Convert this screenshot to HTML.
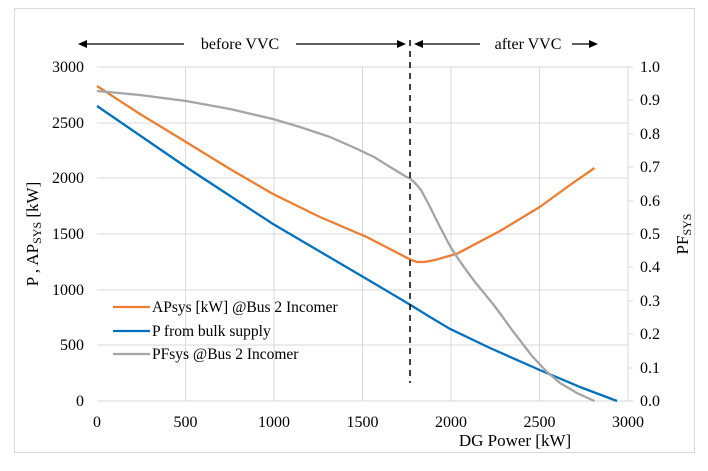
<!DOCTYPE html><html><head><style>body{margin:0;background:#fff}svg{display:block}</style></head><body>
<svg width="708" height="471" viewBox="0 0 708 471" style="font-family:'Liberation Serif','DejaVu Serif','Times New Roman',serif">
<rect x="14.5" y="8.5" width="680" height="444" fill="#fff" stroke="#d9d9d9"/>
<g stroke="#d9d9d9" stroke-width="1">
<line x1="97" y1="67" x2="628" y2="67"/><line x1="97" y1="123" x2="628" y2="123"/><line x1="97" y1="178" x2="628" y2="178"/><line x1="97" y1="234" x2="628" y2="234"/><line x1="97" y1="290" x2="628" y2="290"/><line x1="97" y1="345" x2="628" y2="345"/>
<line x1="185.5" y1="67" x2="185.5" y2="401"/><line x1="274" y1="67" x2="274" y2="401"/><line x1="362.5" y1="67" x2="362.5" y2="401"/><line x1="451" y1="67" x2="451" y2="401"/><line x1="539.5" y1="67" x2="539.5" y2="401"/>
<line x1="628" y1="67" x2="628" y2="401"/><line x1="97" y1="401" x2="628" y2="401"/>
<line x1="628" y1="67" x2="633" y2="67"/><line x1="628" y1="100" x2="633" y2="100"/><line x1="628" y1="134" x2="633" y2="134"/><line x1="628" y1="167" x2="633" y2="167"/><line x1="628" y1="201" x2="633" y2="201"/><line x1="628" y1="234" x2="633" y2="234"/><line x1="628" y1="267" x2="633" y2="267"/><line x1="628" y1="301" x2="633" y2="301"/><line x1="628" y1="334" x2="633" y2="334"/><line x1="628" y1="368" x2="633" y2="368"/><line x1="628" y1="401" x2="633" y2="401"/>
</g>
<g font-size="16" fill="#000" text-anchor="end" style="font-family:'Liberation Serif',serif">
<text x="84" y="72">3000</text><text x="84" y="128">2500</text><text x="84" y="183">2000</text><text x="84" y="239">1500</text><text x="84" y="295">1000</text><text x="84" y="350">500</text><text x="84" y="406">0</text>
</g>
<g font-size="16" text-anchor="start" style="font-family:'Liberation Serif',serif">
<text x="640" y="72">1.0</text><text x="640" y="105">0.9</text><text x="640" y="139">0.8</text><text x="640" y="172">0.7</text><text x="640" y="206">0.6</text><text x="640" y="239">0.5</text><text x="640" y="272">0.4</text><text x="640" y="306">0.3</text><text x="640" y="339">0.2</text><text x="640" y="373">0.1</text><text x="640" y="406">0.0</text>
</g>
<g font-size="16" text-anchor="middle" style="font-family:'Liberation Serif',serif">
<text x="97" y="427">0</text><text x="185.5" y="427">500</text><text x="274" y="427">1000</text><text x="362.5" y="427">1500</text><text x="451" y="427">2000</text><text x="539.5" y="427">2500</text><text x="628" y="427">3000</text>
</g>
<g style="font-family:'Liberation Serif',serif">
<text x="515" y="446" font-size="17" text-anchor="middle">DG Power [kW]</text>
<text transform="translate(38,234) rotate(-90)" font-size="17" text-anchor="middle">P , AP<tspan font-size="12" dy="3">SYS</tspan><tspan dy="-3"> [kW]</tspan></text>
<text transform="translate(688,234) rotate(-90)" font-size="17" text-anchor="middle">PF<tspan font-size="12" dy="3">SYS</tspan></text>
<text x="240" y="49" font-size="16" text-anchor="middle">before VVC</text>
<text x="528" y="49" font-size="16" text-anchor="middle">after VVC</text>
</g>
<polyline fill="none" stroke="#ed7d31" stroke-width="2.3" stroke-linejoin="round" points="97,86 140,114 186,142 230,169 273,194 320,217 366.7,237 390,249 410.6,259.7 417,262 424,262 435,260 457,253.7 500,231 539.7,207 570,185 594.5,168"/>
<polyline fill="none" stroke="#0070c0" stroke-width="2.3" stroke-linejoin="round" points="97,106 186,167 273,224 366.7,279 410.6,305 430,317 449.6,328.7 490,348 539.7,370 580,387 617,401"/>
<polyline fill="none" stroke="#a5a5a5" stroke-width="2.3" stroke-linejoin="round" points="97,91 140,95 186,101 230,109 273,119 300,127 330,137 355,148 374,157 395,170 405,176 410.6,179 416,184 421,190 428,203 440,227 450,246 457,257 466,270 475,282 484,293 493,304 502,316 512,330 522,343 532,356 546,371 560,383 577,393 594.5,401"/>
<line x1="410" y1="40" x2="410" y2="383" stroke="#000" stroke-width="1.5" stroke-dasharray="6,5"/>
<g stroke="#000" stroke-width="1.3"><line x1="84" y1="44" x2="184" y2="44"/><line x1="296" y1="44" x2="400" y2="44"/><line x1="422" y1="44" x2="480" y2="44"/><line x1="572" y1="44" x2="590" y2="44"/></g>
<g fill="#000"><polygon points="78,44 87,40 87,48"/><polygon points="406,44 397,40 397,48"/><polygon points="414,44 423,40 423,48"/><polygon points="598,44 589,40 589,48"/></g>
<g font-size="15.5" style="font-family:'Liberation Serif',serif">
<line x1="113" y1="307" x2="150" y2="307" stroke="#ed7d31" stroke-width="2.3"/><text x="152" y="312">APsys [kW] @Bus 2 Incomer</text>
<line x1="113" y1="331" x2="150" y2="331" stroke="#0070c0" stroke-width="2.3"/><text x="152" y="336">P from bulk supply</text>
<line x1="113" y1="354" x2="150" y2="354" stroke="#a5a5a5" stroke-width="2.3"/><text x="152" y="359">PFsys @Bus 2 Incomer</text>
</g>
</svg></body></html>
